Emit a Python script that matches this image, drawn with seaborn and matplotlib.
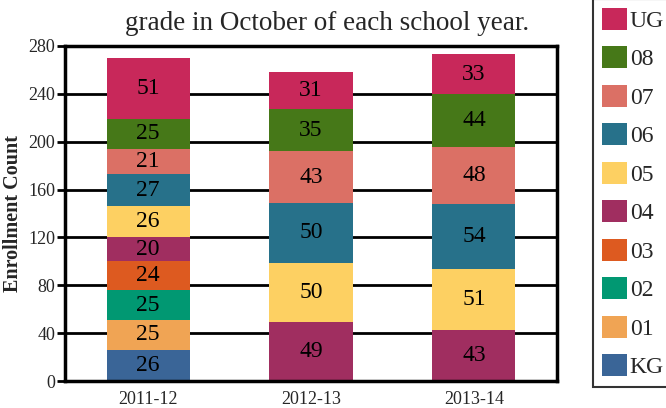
import matplotlib
matplotlib.use("Agg")
import matplotlib.pyplot as plt
from matplotlib.patches import Patch
import numpy as np
import pandas as pd
import seaborn as sns

years = ["2011-12", "2012-13", "2013-14"]
grades = ["KG", "01", "02", "03", "04", "05", "06", "07", "08", "UG"]
kg = [26, 0, 0]
g01 = [25, 0, 0]
g02 = [25, 0, 0]
g03 = [24, 0, 0]
g04 = [20, 49, 43]
g05 = [26, 50, 51]
g06 = [27, 50, 54]
g07 = [21, 43, 48]
g08 = [25, 35, 44]
ug = [51, 31, 33]
colors = ["#3A6597", "#F0A454", "#019872", "#DD5A20", "#A02E60",
          "#FDD062", "#27718A", "#DB7065", "#467818", "#C8285A"]
yticks = [0, 40, 80, 120, 160, 200, 240, 280]
title_line = "grade in October of each school year."

series = [kg, g01, g02, g03, g04, g05, g06, g07, g08, ug]

sns.set_theme(style="white")
plt.rcParams["font.family"] = ["Liberation Serif", "DejaVu Serif"]

fig = plt.figure(figsize=(6.66, 4.08), dpi=100)
W, H = 666, 408
ax = fig.add_axes([65 / W, 1 - 381 / H, (557 - 65) / W, (381 - 46) / H])

vals = np.array(series, dtype=float)
cum = np.cumsum(vals, axis=0)

# gridlines behind
for t in yticks[1:-1]:
    ax.axhline(t, color="black", lw=2, zorder=0)

# draw cumulative bars top-down
for i in range(len(grades) - 1, -1, -1):
    df = pd.DataFrame({"year": years, "val": cum[i]})
    sns.barplot(data=df, x="year", y="val", color=colors[i], saturation=1,
                width=0.51, ax=ax, zorder=2, linewidth=0, order=years)

for i in range(len(grades)):
    for j in range(len(years)):
        v = vals[i, j]
        if v > 0:
            ax.text(j, cum[i, j] - v / 2, f"{int(v)}", ha="center", va="center",
                    fontsize=17, color="black", zorder=3)

ax.set_xlim(-0.51, 2.51)
ax.set_ylim(0, 280)
ax.set_yticks(yticks)
ax.set_yticklabels([str(t) for t in yticks], fontsize=13)
ax.tick_params(axis="y", length=6, width=2, color="black", pad=1, direction="out", left=True)
ax.tick_params(axis="x", length=0, labelsize=13, pad=7)
ax.set_xlabel("")
ax.set_ylabel("Enrollment Count", fontsize=14.5, fontweight="bold")
ax.yaxis.set_label_coords(-0.085, 0.5)
for s in ax.spines.values():
    s.set_visible(True)
    s.set_color("black")
    s.set_linewidth(2.5)
    s.set_zorder(4)

fig.text(327 / W, 1 - 30 / H, title_line, ha="center", va="baseline", fontsize=19.5)

handles = [Patch(facecolor=colors[i], edgecolor="none", label=grades[i])
           for i in range(len(grades) - 1, -1, -1)]
leg = fig.legend(handles=handles, loc="upper left", bbox_to_anchor=(593 / W, 1.003),
                 frameon=True, fontsize=17, handlelength=1.06, handleheight=1.06,
                 handletextpad=0.12, labelspacing=0.61, borderpad=0.38,
                 borderaxespad=0, fancybox=False)
leg.get_frame().set_edgecolor("black")
leg.get_frame().set_linewidth(1.5)

fig.savefig("out.png", dpi=100)
